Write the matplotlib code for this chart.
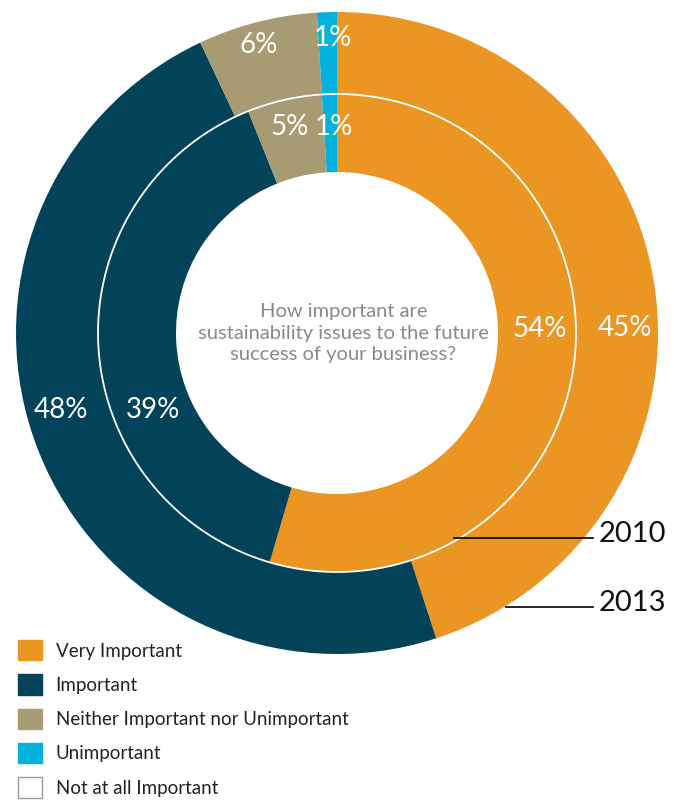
import matplotlib
matplotlib.use("Agg")
import matplotlib.pyplot as plt
from matplotlib.patches import Patch
import numpy as np

plt.rcParams['font.family'] = ['Lato', 'DejaVu Sans']

# Survey answers, share in percent
categories = ['Very Important', 'Important', 'Neither Important nor Unimportant',
              'Unimportant', 'Not at all Important']
values_2010 = [54, 39, 5, 1, 0]   # inner ring
values_2013 = [45, 48, 6, 1, 0]   # outer ring
colors = ['#EB9622', '#03435A', '#A89B73', '#00B2DC', '#FFFFFF']
question = 'How important are\nsustainability issues to the future\nsuccess of your business?'

# label placement (angle in degrees ccw from 3 o'clock, radius) - layout only
outer_label_pos = [(1, 0.897), (195.5, 0.894), (105.3, 0.93), (90.8, 0.92)]
inner_label_pos = [(1, 0.632), (202.7, 0.62), (102.9, 0.658), (91, 0.642)]

W, H = 674, 805
cx, cy, R = 337, 333, 321
fig = plt.figure(figsize=(W / 100, H / 100), dpi=100)
ax = fig.add_axes([(cx - R) / W, (H - cy - R) / H, 2 * R / W, 2 * R / H])

r_mid = 239 / R
r_hole = 161 / R

ax.pie(values_2013, colors=colors, radius=1.0, startangle=90, counterclock=False,
       wedgeprops=dict(width=1.0 - r_mid, linewidth=0))
ax.pie(values_2010, colors=colors, radius=r_mid, startangle=90, counterclock=False,
       wedgeprops=dict(width=r_mid - r_hole, linewidth=0))

# white divider between the two rings
t = np.linspace(0, 2 * np.pi, 400)
ax.plot(r_mid * np.cos(t), r_mid * np.sin(t), color='white', lw=1.3)

for vals, pos in [(values_2013, outer_label_pos), (values_2010, inner_label_pos)]:
    for v, (ang, rr) in zip(vals, pos):
        a = np.radians(ang)
        ax.text(rr * np.cos(a), rr * np.sin(a), f'{v}%', color='white',
                fontsize=20, fontweight='normal', ha='center', va='center')

ax.text(0.02, 0.0, question, ha='center', va='center', color='#858B8B',
        fontsize=14.5, linespacing=1.3)

# year call-outs
for year, y_px, r0 in [('2010', 538, 0.735), ('2013', 607, 1.003)]:
    y = -(y_px - cy) / R
    x0 = np.sqrt(r0 ** 2 - y ** 2)
    ax.plot([x0, (593 - cx) / R], [y, y], color='black', lw=1.2, clip_on=False)
    ax.text((599 - cx) / R, y + 0.012, year, ha='left', va='center',
            fontsize=21, color='#111111', clip_on=False)

ax.set_xlim(-1, 1)
ax.set_ylim(-1, 1)
ax.set_aspect('equal')
ax.axis('off')

handles = [Patch(facecolor=c, edgecolor='#9A9A9A' if c == '#FFFFFF' else c, lw=1.0)
           for c in colors]
fig.legend(handles, categories, loc='upper left', bbox_to_anchor=(18 / W, 1 - 640 / H),
           frameon=False, fontsize=13.5, handlelength=1.3, handleheight=1.3,
           handletextpad=0.7, labelspacing=0.74, borderpad=0, borderaxespad=0,
           labelcolor='#222222')

fig.savefig('out.png', dpi=100)
